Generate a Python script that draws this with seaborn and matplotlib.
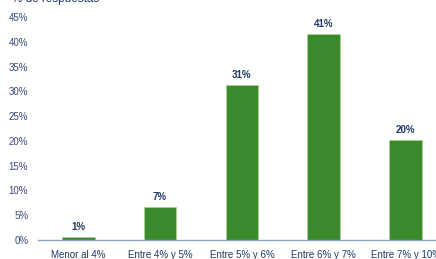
import matplotlib
matplotlib.use("Agg")
import matplotlib.pyplot as plt
import seaborn as sns
import pandas as pd

categories = ["Menor al 4%", "Entre 4% y 5%", "Entre 5% y 6%", "Entre 6% y 7%", "Entre 7% y 10%"]
values = [0.6, 6.6, 31.2, 41.5, 20.2]
value_labels = ["1%", "7%", "31%", "41%", "20%"]
yticks = [0, 5, 10, 15, 20, 25, 30, 35, 40, 45]
title = "% de respuestas"

sns.set_style("white")
plt.rcParams['font.family'] = ['Liberation Sans', 'DejaVu Sans']

df = pd.DataFrame({"cat": categories, "val": values})

fig = plt.figure(figsize=(4.36, 2.59), dpi=100)
ax = fig.add_axes([38/436, 1 - 240/259, 1 - 38/436, (240 - 17)/259])

sns.barplot(data=df, x="cat", y="val", ax=ax, color="#3b8a2e", saturation=1,
            width=0.4, edgecolor="#a9d08e", linewidth=0.6)

for i, (v, lab) in enumerate(zip(values, value_labels)):
    ax.text(i, v + 1.0, lab, ha="center", va="bottom", fontsize=7,
            fontweight="bold", color="#1f3864")

ax.set_xlim(-0.49, 4.37)
ax.set_ylim(0, 45)
ax.set_yticks(yticks)
ax.set_yticklabels([f"{t}%" for t in yticks], fontsize=7, color="#3a4a7a")
ax.tick_params(axis="x", labelsize=7, colors="#1f3864", length=0, pad=7)
ax.tick_params(axis="y", length=0, pad=7)
ax.set_xlabel("")
ax.set_ylabel("")
for s in ["top", "right", "left"]:
    ax.spines[s].set_visible(False)
ax.spines["bottom"].set_color("#8ea0c8")
ax.spines["bottom"].set_linewidth(1.0)

fig.text(12/436, 1.003, title, fontsize=8.5, color="#1f3864", ha="left", va="center")

fig.savefig("out.png", dpi=100)
